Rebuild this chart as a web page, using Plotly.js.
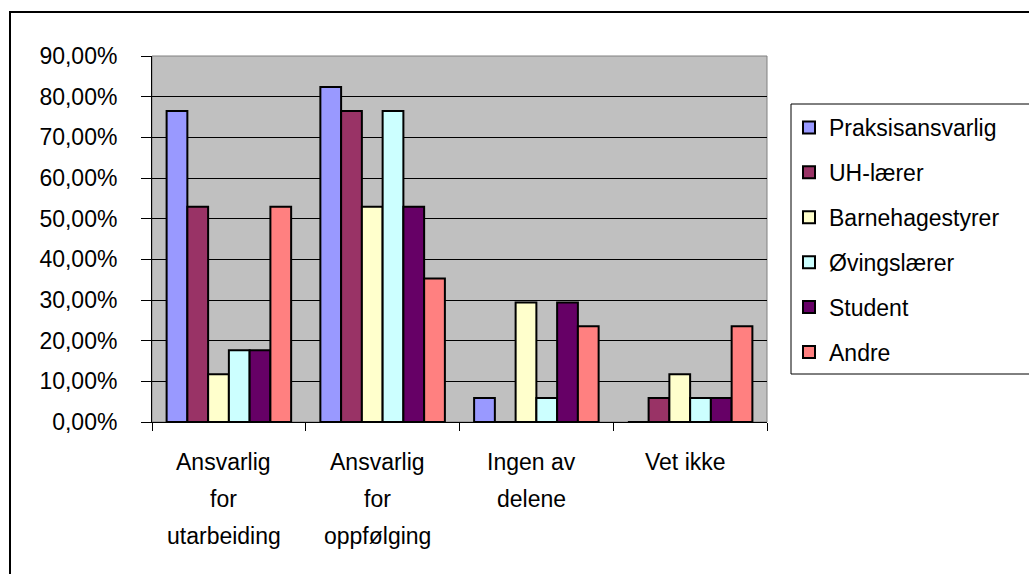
<!DOCTYPE html>
<html>
<head>
<meta charset="utf-8">
<script src="https://cdn.plot.ly/plotly-3.0.1.min.js"></script>
<style>html,body{margin:0;padding:0;background:#fff;}#chart{width:1029px;height:574px;}</style>
</head>
<body>
<div id="chart"></div>
<script>
// Categories (x) and their displayed tick labels (line breaks as in the reference)
var categories = ["Ansvarlig for utarbeiding", "Ansvarlig for oppfølging", "Ingen av delene", "Vet ikke"];
var tickLabels = ["Ansvarlig<br>for<br>utarbeiding", "Ansvarlig<br>for<br>oppfølging", "Ingen av<br>delene", "Vet ikke"];

// Series names
var seriesNames = ["Praksisansvarlig", "UH-lærer", "Barnehagestyrer", "Øvingslærer", "Student", "Andre"];

// Series values (fractions, shown as percent)
var praksisansvarlig = [0.7647, 0.8235, 0.0588, 0.0];
var uhLaerer         = [0.5294, 0.7647, 0.0,    0.0588];
var barnehagestyrer  = [0.1176, 0.5294, 0.2941, 0.1176];
var ovingslaerer     = [0.1765, 0.7647, 0.0588, 0.0588];
var student          = [0.1765, 0.5294, 0.2941, 0.0588];
var andre            = [0.5294, 0.3529, 0.2353, 0.2353];

// Y axis ticks
var yTickVals = [0, 0.1, 0.2, 0.3, 0.4, 0.5, 0.6, 0.7, 0.8, 0.9];

var seriesValues = [praksisansvarlig, uhLaerer, barnehagestyrer, ovingslaerer, student, andre];
var colors = ["#9999FF", "#993366", "#FFFFCC", "#CCFFFF", "#660066", "#FF8080"];

var FONT = "Liberation Sans, Arial, sans-serif";

var traces = seriesNames.map(function (name, i) {
  return {
    type: "bar",
    name: name,
    x: categories,
    y: seriesValues[i],
    legendgroup: "g" + i,
    marker: { color: colors[i], line: { color: "#000000", width: 2 } },
    hoverinfo: "x+y+name"
  };
});

// Layout geometry (pixels)
var W = 1029, H = 574;
var L = 152, R = 262, T = 56, B = 152;
var plotW = W - L - R, plotH = H - T - B;
function px(x) { return (x - L) / plotW; }
function py(y) { return (H - B - y) / plotH; }

var annotations = [];
var lineCenters = [462, 499, 536];
tickLabels.forEach(function (lab, ci) {
  lab.split("<br>").forEach(function (line, li) {
    annotations.push({
      x: categories[ci], xref: "x",
      y: py(lineCenters[li]), yref: "paper",
      text: line, showarrow: false,
      xanchor: "center", yanchor: "middle", xshift: -5,
      font: { family: FONT, size: 23, color: "#000" }
    });
  });
});

var layout = {
  width: W, height: H,
  margin: { l: L, r: R, t: T, b: B, pad: 0 },
  paper_bgcolor: "#ffffff",
  plot_bgcolor: "#C0C0C0",
  separators: ",.",
  barmode: "group",
  bargap: 0.19,
  bargroupgap: 0,
  font: { family: FONT, size: 23, color: "#000" },
  showlegend: true,
  legend: {
    x: px(789), y: py(106), xanchor: "left", yanchor: "top",
    bgcolor: "rgba(0,0,0,0)", borderwidth: 0,
    font: { family: FONT, size: 23, color: "#000" },
    tracegroupgap: 12,
    traceorder: "grouped",
    itemclick: false
  },
  xaxis: {
    type: "category",
    showticklabels: false,
    ticks: "outside", tickson: "boundaries", ticklen: 8, tickwidth: 1, tickcolor: "#000",
    showline: true, linecolor: "#000", linewidth: 1,
    showgrid: false, zeroline: false,
    fixedrange: true
  },
  yaxis: {
    range: [0, 0.9],
    tickvals: yTickVals,
    tickformat: ".2%",
    ticks: "outside", ticklen: 10, tickwidth: 1, tickcolor: "#000",
    ticklabelstandoff: 19,
    tickfont: { family: FONT, size: 23, color: "#000" },
    showline: true, linecolor: "#000", linewidth: 1,
    showgrid: true, gridcolor: "#000", gridwidth: 1,
    zeroline: false,
    fixedrange: true
  },
  shapes: [
    // plot area border (gray top/right)
    { type: "rect", xref: "paper", yref: "paper", x0: 0, x1: 1, y0: 0, y1: 1,
      line: { color: "#808080", width: 1 }, fillcolor: "rgba(0,0,0,0)", layer: "below" },
    // legend box
    { type: "rect", xref: "paper", yref: "paper", x0: px(791), x1: px(1060), y0: py(374), y1: py(104),
      line: { color: "#000", width: 1 }, fillcolor: "rgba(0,0,0,0)" },
    // outer chart frame
    { type: "rect", xref: "paper", yref: "paper", x0: px(10), x1: px(1060), y0: py(600), y1: py(12),
      line: { color: "#000", width: 2 }, fillcolor: "rgba(0,0,0,0)" }
  ],
  annotations: annotations
};

Plotly.newPlot("chart", traces, layout, { displayModeBar: false, staticPlot: false });
</script>
</body>
</html>
